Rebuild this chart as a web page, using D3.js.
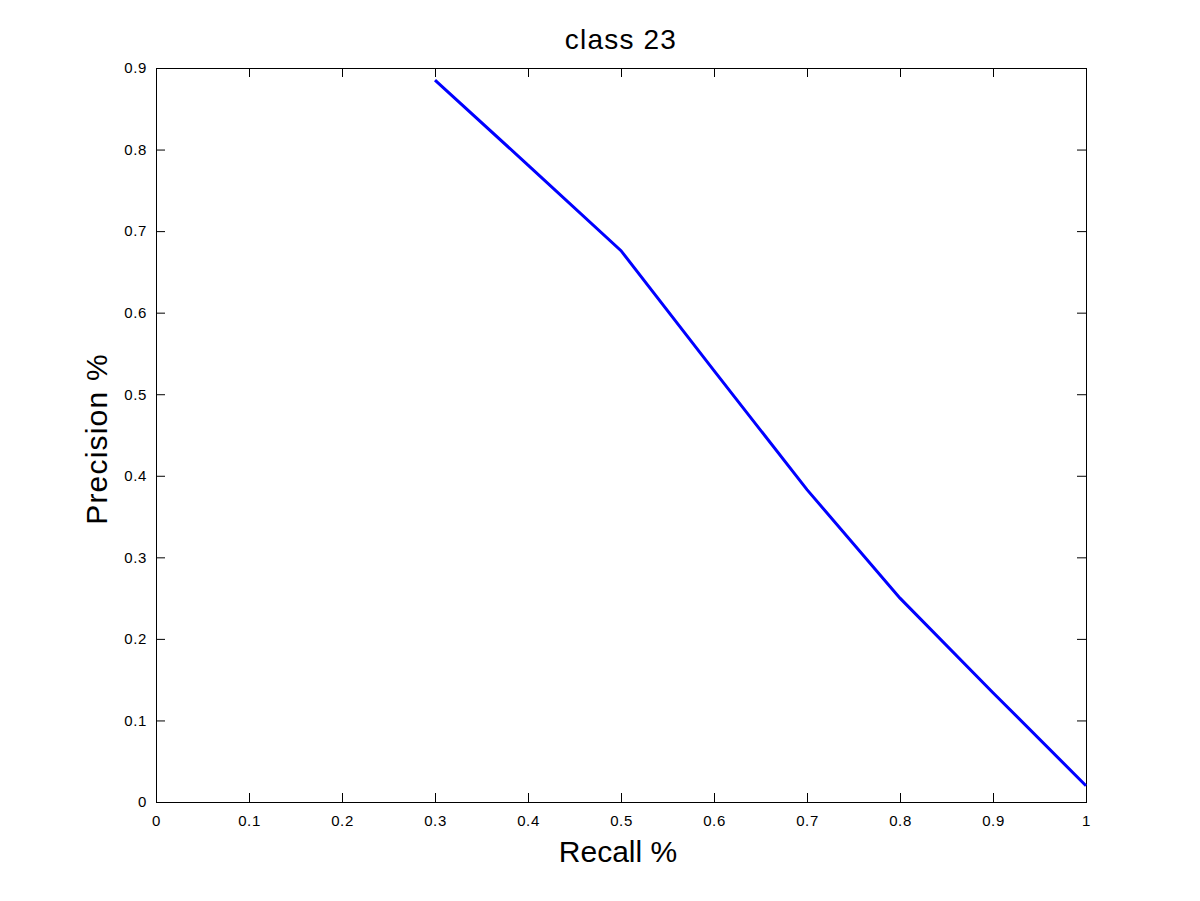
<!DOCTYPE html>
<html><head><meta charset="utf-8">
<script src="https://cdn.jsdelivr.net/npm/d3@7"></script>
<style>body{margin:0;background:#fff}svg{display:block}text{font-family:"Liberation Sans",Arial,sans-serif}</style>
</head><body>
<script>
const recall = [0.3, 0.4, 0.5, 0.6, 0.7, 0.8, 0.9, 1.0];
const precision = [0.885, 0.781, 0.676, 0.529, 0.383, 0.25, 0.134, 0.02];
const xTicks = [0, 0.1, 0.2, 0.3, 0.4, 0.5, 0.6, 0.7, 0.8, 0.9, 1];
const yTicks = [0, 0.1, 0.2, 0.3, 0.4, 0.5, 0.6, 0.7, 0.8, 0.9];
const title = "class 23", xLabel = "Recall %", yLabel = "Precision %";

const W = 1200, H = 901;
const L = 156, R = 1086, T = 68, B = 802;
const svg = d3.select("body").append("svg").attr("width", W).attr("height", H);
const x = d3.scaleLinear().domain([0, 1]).range([L, R]);
const y = d3.scaleLinear().domain([0, 0.9]).range([B, T]);

function styleAxis(g){ g.select(".domain").remove(); g.selectAll("line").attr("stroke","#000"); g.selectAll("text").attr("fill","#000").attr("font-size",15).attr("letter-spacing",0.6); }
svg.append("g").attr("transform",`translate(0,${B})`)
  .call(d3.axisBottom(x).tickValues(xTicks).tickFormat(d3.format("")).tickSizeInner(-9).tickSizeOuter(0).tickPadding(13)).call(styleAxis);
svg.append("g").attr("transform",`translate(0,${T})`)
  .call(d3.axisTop(x).tickValues(xTicks).tickFormat("").tickSizeInner(-9).tickSizeOuter(0)).call(styleAxis);
svg.append("g").attr("transform",`translate(${L},0)`)
  .call(d3.axisLeft(y).tickValues(yTicks).tickFormat(d3.format("")).tickSizeInner(-9).tickSizeOuter(0).tickPadding(9)).call(styleAxis);
svg.append("g").attr("transform",`translate(${R},0)`)
  .call(d3.axisRight(y).tickValues(yTicks).tickFormat("").tickSizeInner(-9).tickSizeOuter(0)).call(styleAxis);
svg.append("rect").attr("x",L).attr("y",T).attr("width",R-L).attr("height",B-T)
  .attr("fill","none").attr("stroke","#000").attr("stroke-width",1).attr("shape-rendering","crispEdges");

const line = d3.line().x((d,i)=>x(recall[i])).y(d=>y(d));
svg.append("path").datum(precision).attr("d",line).attr("fill","none").attr("stroke","#0000ff").attr("stroke-width",3);

svg.append("text").attr("x",(L+R)/2).attr("y",49).attr("text-anchor","middle").attr("font-size",28).attr("letter-spacing",1.2).text(title);
svg.append("text").attr("x",(L+R)/2-3).attr("y",862).attr("text-anchor","middle").attr("font-size",30).text(xLabel);
svg.append("text").attr("transform",`translate(107,439) rotate(-90)`).attr("text-anchor","middle").attr("font-size",30).attr("letter-spacing",1.2).text(yLabel);
</script>
</body></html>
